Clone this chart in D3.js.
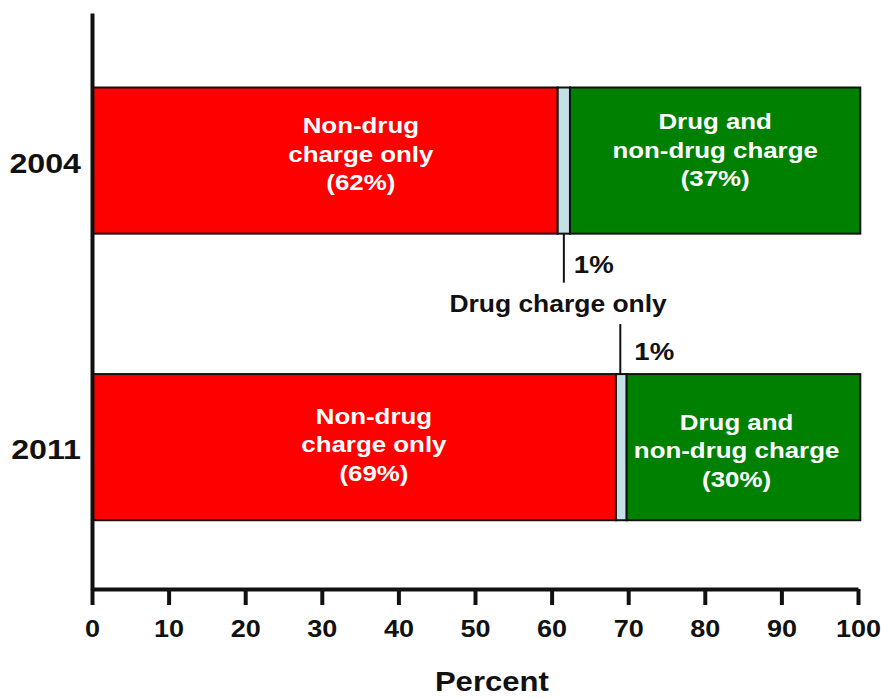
<!DOCTYPE html>
<html>
<head>
<meta charset="utf-8">
<script src="https://cdn.jsdelivr.net/npm/d3@7"></script>
<style>
  html, body { margin: 0; padding: 0; background: #ffffff; }
  svg { display: block; }
</style>
</head>
<body>
<script>
// ---------- data ----------
const years = ["2004", "2011"];
const nonDrugOnly = [60.8, 68.4];
const drugOnly = [1.6, 1.4];
const drugAndNonDrug = [37.9, 30.5];
const nonDrugLabels = [["Non-drug", "charge only", "(62%)"], ["Non-drug", "charge only", "(69%)"]];
const bothLabels = [["Drug and", "non-drug charge", "(37%)"], ["Drug and", "non-drug charge", "(30%)"]];
const drugOnlyPct = ["1%", "1%"];
const drugOnlyName = "Drug charge only";
const xTicks = [0, 10, 20, 30, 40, 50, 60, 70, 80, 90, 100];
const xTitle = "Percent";

// ---------- layout ----------
const W = 881, H = 698;
const margin = { left: 92, right: 23, top: 13, bottom: 109 };
const FONT = "'Liberation Sans', Arial, Helvetica, sans-serif";
const SX = 1.15; // horizontal stretch of the original artwork's text
const colors = { nonDrug: "#ff0000", drugOnly: "#c3e0e6", both: "#008000" };

const svg = d3.select("body").append("svg").attr("width", W).attr("height", H);

const x = d3.scaleLinear().domain([0, 100]).range([margin.left, W - margin.right]);
const y = d3.scaleBand().domain(years)
  .range([margin.top, H - margin.bottom])
  .paddingInner(0.49).paddingOuter(0.25).align(0.52);
const bw = y.bandwidth();

function sText(g, tx, ty, str, size, color, anchor) {
  return g.append("text")
    .attr("transform", `translate(${tx},${ty}) scale(${SX},1)`)
    .attr("text-anchor", anchor || "middle")
    .attr("font-family", FONT).attr("font-weight", "bold")
    .attr("font-size", size).attr("fill", color)
    .text(str);
}

// ---------- stacked bars ----------
const rows = years.map((yr, i) => {
  const segs = [
    { key: "nonDrug", v: nonDrugOnly[i] },
    { key: "drugOnly", v: drugOnly[i] },
    { key: "both", v: drugAndNonDrug[i] }
  ];
  let acc = 0;
  segs.forEach(s => { s.x0 = acc; acc += s.v; s.x1 = acc; s.year = yr; });
  return segs;
});

const barG = svg.append("g");
rows.forEach(segs => {
  barG.selectAll(null).data(segs).enter().append("rect")
    .attr("x", d => x(d.x0))
    .attr("y", d => y(d.year))
    .attr("width", d => x(d.x1) - x(d.x0))
    .attr("height", bw)
    .attr("fill", d => colors[d.key])
    .attr("stroke", "#111")
    .attr("stroke-width", 2);
});

// ---------- labels inside bars ----------
const nudge = {
  nonDrug: [{ dx: 4.7, dy: -27.5 }, { dx: 2.6, dy: -23.5 }],
  both: [{ dx: 0.0, dy: -31.5 }, { dx: -0.9, dy: -17.5 }]
};
const lineH = 28.5;
const labG = svg.append("g");
rows.forEach((segs, i) => {
  const cy = y(years[i]) + bw / 2;
  const s0 = segs[0], s2 = segs[2];
  const cx0 = x((s0.x0 + s0.x1) / 2 + nudge.nonDrug[i].dx);
  nonDrugLabels[i].forEach((t, j) => sText(labG, cx0, cy + nudge.nonDrug[i].dy + j * lineH, t, 22.5, "#ffffff"));
  const cx2 = x((s2.x0 + s2.x1) / 2 + nudge.both[i].dx);
  bothLabels[i].forEach((t, j) => sText(labG, cx2, cy + nudge.both[i].dy + j * lineH, t, 22.5, "#ffffff"));
});

// ---------- drug-charge-only annotation ----------
const annG = svg.append("g");
const s04 = rows[0][1], s11 = rows[1][1];
const lx04 = x((s04.x0 + s04.x1) / 2);
const lx11 = x((s11.x0 + s11.x1) / 2) - 1;
const bot04 = y(years[0]) + bw;
const top11 = y(years[1]);
annG.append("line").attr("x1", lx04).attr("x2", lx04).attr("y1", bot04).attr("y2", bot04 + 49)
  .attr("stroke", "#111").attr("stroke-width", 2);
annG.append("line").attr("x1", lx11).attr("x2", lx11).attr("y1", top11 - 50).attr("y2", top11)
  .attr("stroke", "#111").attr("stroke-width", 2);
sText(annG, lx04 + 10, bot04 + 39, drugOnlyPct[0], 24, "#111", "start");
sText(annG, lx11 + 14, top11 - 14, drugOnlyPct[1], 24, "#111", "start");
sText(annG, (lx04 + lx11) / 2 - 34, (bot04 + top11) / 2 + 8, drugOnlyName, 23, "#111");

// ---------- axes ----------
const xAxis = svg.append("g")
  .attr("transform", `translate(0,${H - margin.bottom})`)
  .call(d3.axisBottom(x).tickValues(xTicks).tickFormat(d3.format("d")).tickSize(16).tickSizeOuter(0));
xAxis.select(".domain").attr("stroke", "#111").attr("stroke-width", 4);
xAxis.selectAll(".tick line").attr("stroke", "#111").attr("stroke-width", 4);
xAxis.selectAll(".tick text")
  .attr("y", 0).attr("dy", 0)
  .attr("transform", `translate(0,48) scale(${SX},1)`)
  .attr("font-family", FONT).attr("font-weight", "bold").attr("font-size", 23.5).attr("fill", "#111");

const yAxis = svg.append("g")
  .attr("transform", `translate(${margin.left},0)`)
  .call(d3.axisLeft(y).tickSize(0).tickSizeOuter(0));
yAxis.select(".domain").attr("stroke", "#111").attr("stroke-width", 4);
yAxis.selectAll(".tick text")
  .attr("x", 0).attr("dy", 0)
  .attr("transform", `translate(-11,12) scale(${SX},1)`)
  .attr("text-anchor", "end")
  .attr("font-family", FONT).attr("font-weight", "bold").attr("font-size", 28).attr("fill", "#111");

// ---------- axis title ----------
sText(svg, x(52.2), H - 7, xTitle, 27, "#111");
</script>
</body>
</html>
